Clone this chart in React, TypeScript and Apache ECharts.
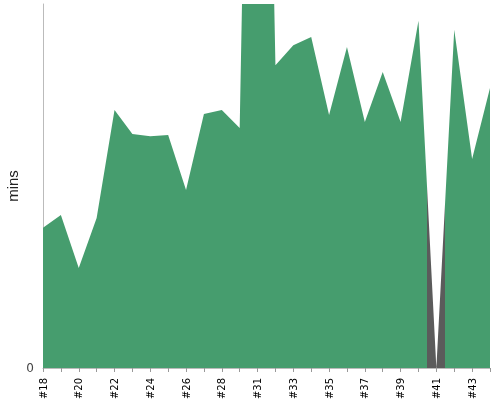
import React, { useEffect, useRef } from "react";
import * as echarts from "echarts";

const categories = [
  "#18", "#19", "#20", "#21", "#22", "#23", "#24", "#25", "#26", "#27", "#28",
  "#30", "#31", "#32", "#33", "#34", "#35", "#36", "#37", "#38", "#39", "#40",
  "#41", "#42", "#43", "#44",
];

const minsValues = [
  38.5, 42.0, 27.5, 41.2, 70.9, 64.3, 63.7, 64.0, 48.9, 69.8, 70.9,
  65.9, 330, 83.2, 88.7, 90.9, 69.5, 88.2, 67.6, 81.3, 67.6, 95.4,
  0, 92.9, 57.4, 76.9,
];

// category highlighted in gray
const highlightCategory = "#41";

const GREEN = "#469d6e";
const GRAY = "#5b5b5b";

export default function App() {
  const ref = useRef<HTMLDivElement>(null);
  useEffect(() => {
    if (!ref.current) return;
    const chart = echarts.init(ref.current, undefined, { renderer: "svg" });
    const hi = categories.indexOf(highlightCategory);
    chart.setOption({
      animation: false,
      grid: {
        left: 43,
        right: 10,
        top: 4,
        bottom: 32,
        containLabel: false,
        outerBoundsMode: "none",
      },
      xAxis: {
        type: "value",
        min: 0,
        max: categories.length - 1,
        interval: 1,
        offset: 4,
        axisLine: { lineStyle: { color: "#bbb" } },
        axisTick: { show: true, length: 4, lineStyle: { color: "#999" } },
        axisLabel: {
          rotate: 90,
          fontSize: 10,
          color: "#000",
          fontFamily: "DejaVu Sans",
          margin: 6,
          showMinLabel: true,
          showMaxLabel: true,
          hideOverlap: false,
          formatter: (v: number) =>
            v % 2 === 0 && categories[v] !== undefined && v < categories.length - 1 ? categories[v] : "",
        },
        splitLine: { show: false },
      },
      yAxis: {
        type: "value",
        min: 0,
        max: 100,
        interval: 100,
        offset: 3,
        name: "mins",
        nameLocation: "middle",
        nameGap: 20,
        nameMoveOverlap: false,
        nameRotate: 90,
        nameTextStyle: { fontSize: 15, color: "#222", fontFamily: "Liberation Sans" },
        axisLine: { show: true, lineStyle: { color: "#bbb" } },
        axisTick: { show: false },
        splitLine: { show: false },
        axisLabel: {
          fontSize: 12,
          color: "#444",
          fontFamily: "DejaVu Sans",
          margin: 6,
          formatter: (v: number) => (v === 0 ? "0" : ""),
        },
      },
      visualMap: {
        type: "piecewise",
        show: false,
        dimension: 0,
        seriesIndex: 0,
        pieces: [{ gte: hi - 0.5, lt: hi + 0.5, color: GRAY }],
        outOfRange: { color: GREEN },
      },
      series: [
        {
          type: "line",
          data: minsValues.map((v, i) => [i, v]),
          showSymbol: false,
          symbol: "none",
          lineStyle: { width: 0 },
          areaStyle: { opacity: 1 },
          clip: true,
        },
      ],
    });
    return () => chart.dispose();
  }, []);
  return (
    <div
      ref={ref}
      style={{ width: 500, height: 400, position: "fixed", left: 0, top: 0 }}
    />
  );
}
